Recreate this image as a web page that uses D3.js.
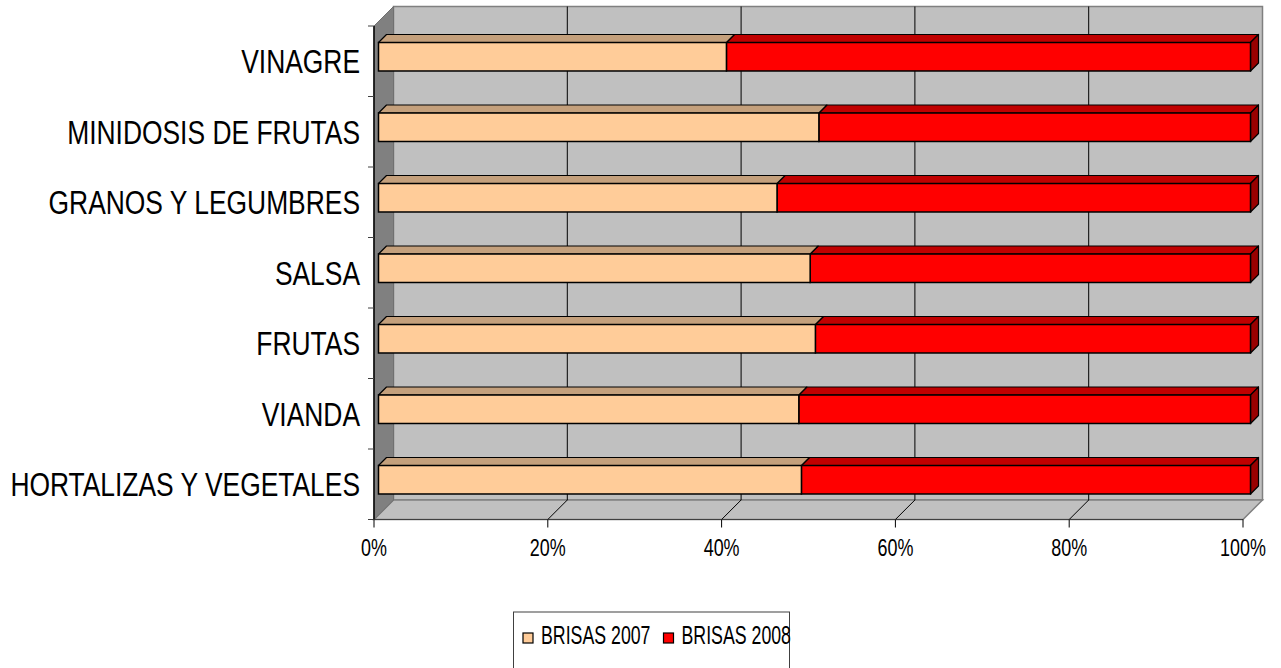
<!DOCTYPE html>
<html>
<head>
<meta charset="utf-8">
<script src="https://cdn.jsdelivr.net/npm/d3@7"></script>
<style>
  html, body { margin: 0; padding: 0; background: #fff; }
  svg { display: block; font-family: "Liberation Sans", Arial, sans-serif; }
</style>
</head>
<body>
<svg id="chart" width="1281" height="668"></svg>
<script>
// ---- data ----
const categories = ["VINAGRE", "MINIDOSIS DE FRUTAS", "GRANOS Y LEGUMBRES", "SALSA", "FRUTAS", "VIANDA", "HORTALIZAS Y VEGETALES"];
const brisas2007 = [39.9, 50.5, 45.7, 49.5, 50.1, 48.2, 48.5];
const brisas2008 = [60.1, 49.5, 54.3, 50.5, 49.9, 51.8, 51.5];
const seriesNames = ["BRISAS 2007", "BRISAS 2008"];
const tickValues = [0, 20, 40, 60, 80, 100];
const tickLabels = ["0%", "20%", "40%", "60%", "80%", "100%"];

// ---- layout ----
const svg = d3.select("#chart");
const D = 19.5;            // wall depth (oblique offset)
const d1 = 4.5, d2 = 12.5; // bar front / back depth
const frontTop = 26, frontBottom = 519.5;
const x = d3.scaleLinear().domain([0, 100]).range([374, 1243]);
const xb = d3.scaleLinear().domain([0, 100]).range([374, 1246]);
const y = d3.scaleBand().domain(categories).range([frontTop, frontBottom]).paddingInner(0.596).paddingOuter(0.298);

const colors = {
  front: ["#FFCC99", "#FF0000"],
  top: ["#C4A07C", "#C00000"],
  side: ["#C4A07C", "#990000"]
};

// walls
const x0 = x(0), x1 = x(100);
svg.append("rect")
  .attr("x", x0 + D).attr("y", frontTop - D)
  .attr("width", x1 - x0).attr("height", frontBottom - frontTop)
  .attr("fill", "#C0C0C0").attr("stroke", "#808080").attr("stroke-width", 1.5);
svg.append("polygon")
  .attr("points", [[x0, frontBottom], [x1, frontBottom], [x1 + D, frontBottom - D], [x0 + D, frontBottom - D]].map(p => p.join(",")).join(" "))
  .attr("fill", "#C0C0C0").attr("stroke", "#808080").attr("stroke-width", 1.5);
svg.append("polygon")
  .attr("points", [[x0, frontTop], [x0 + D, frontTop - D], [x0 + D, frontBottom - D], [x0, frontBottom]].map(p => p.join(",")).join(" "))
  .attr("fill", "#808080").attr("stroke", "#707070").attr("stroke-width", 1);

// gridlines
const grid = tickValues.filter(v => v > 0 && v < 100);
svg.append("g").selectAll("path").data(grid).join("path")
  .attr("d", v => `M${x(v)},${frontBottom} L${x(v) + D},${frontBottom - D} L${x(v) + D},${frontTop - D}`)
  .attr("fill", "none").attr("stroke", "#000").attr("stroke-width", 1);

// axes lines + ticks
svg.append("line").attr("x1", x0).attr("x2", x0).attr("y1", frontTop).attr("y2", frontBottom)
  .attr("stroke", "#000").attr("stroke-width", 1.5);
svg.append("line").attr("x1", x0).attr("x2", x1).attr("y1", frontBottom).attr("y2", frontBottom)
  .attr("stroke", "#404040").attr("stroke-width", 1);
const step = y.step();
const catTicks = d3.range(categories.length + 1).map(k => frontTop + k * step);
svg.append("g").selectAll("line").data(catTicks).join("line")
  .attr("x1", x0 - 6).attr("x2", x0).attr("y1", d => d).attr("y2", d => d)
  .attr("stroke", "#404040").attr("stroke-width", 1);
svg.append("g").selectAll("line").data(tickValues).join("line")
  .attr("x1", v => x(v)).attr("x2", v => x(v)).attr("y1", frontBottom).attr("y2", frontBottom + 8)
  .attr("stroke", "#000").attr("stroke-width", 1);

// tick labels
svg.append("g").selectAll("text").data(tickValues).join("text")
  .attr("transform", v => `translate(${x(v)},556) scale(0.78,1)`)
  .attr("text-anchor", "middle").attr("font-size", 23).attr("fill", "#000")
  .text((v, i) => tickLabels[i]);

// category labels
svg.append("g").selectAll("text").data(categories).join("text")
  .attr("transform", c => `translate(360,${y(c) + y.bandwidth() / 2 + 12}) scale(0.80,1)`)
  .attr("text-anchor", "end").attr("font-size", 33).attr("fill", "#000")
  .text(c => c);

// bars
const pts = arr => arr.map(p => p.join(",")).join(" ");
const barG = svg.append("g");
categories.forEach((c, i) => {
  const vals = [brisas2007[i], brisas2008[i]];
  const total = vals[0] + vals[1];
  let acc = 0;
  const segs = vals.map((v, s) => {
    const a = acc / total * 100; acc += v;
    return { s, a, b: acc / total * 100 };
  });
  const yt = y(c), h = y.bandwidth();
  const g = barG.append("g");
  segs.slice().reverse().forEach(seg => {
    const xa = xb(seg.a), xz = xb(seg.b);
    g.append("polygon")
      .attr("points", pts([[xa + d1, yt - d1], [xz + d1, yt - d1], [xz + d2, yt - d2], [xa + d2, yt - d2]]))
      .attr("fill", colors.top[seg.s]).attr("stroke", "#000").attr("stroke-width", 1.2).attr("stroke-linejoin", "round");
    if (seg.s === segs.length - 1) {
      g.append("polygon")
        .attr("points", pts([[xz + d1, yt - d1], [xz + d2, yt - d2], [xz + d2, yt - d2 + h], [xz + d1, yt - d1 + h]]))
        .attr("fill", colors.side[seg.s]).attr("stroke", "#000").attr("stroke-width", 1.2).attr("stroke-linejoin", "round");
    }
    g.append("rect")
      .attr("x", xa + d1).attr("y", yt - d1).attr("width", xz - xa).attr("height", h)
      .attr("fill", colors.front[seg.s]).attr("stroke", "#000").attr("stroke-width", 1.5);
  });
});

// legend
const lg = svg.append("g");
lg.append("rect").attr("x", 513.5).attr("y", 612).attr("width", 276).attr("height", 62)
  .attr("fill", "#fff").attr("stroke", "#404040").attr("stroke-width", 1);
const legendX = [523, 663.5];
seriesNames.forEach((n, s) => {
  lg.append("rect").attr("x", legendX[s]).attr("y", 633).attr("width", 10).attr("height", 10)
    .attr("fill", colors.front[s]).attr("stroke", "#000").attr("stroke-width", 1.2);
  lg.append("text")
    .attr("transform", `translate(${legendX[s] + 18},644) scale(0.71,1)`)
    .attr("font-size", 25).attr("fill", "#000").text(n);
});
</script>
</body>
</html>
